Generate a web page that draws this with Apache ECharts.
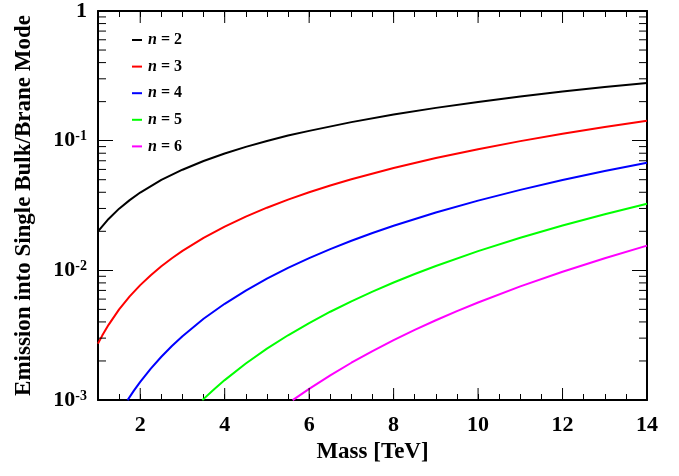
<!DOCTYPE html>
<html>
<head>
<meta charset="utf-8">
<script src="https://cdn.jsdelivr.net/npm/echarts@6/dist/echarts.min.js"></script>
<style>
html,body{margin:0;padding:0;background:#fff;}
#chart{width:679px;height:476px;}
</style>
</head>
<body>
<div id="chart"></div>
<script>
// ---- data ----
const seriesNames = ['n = 2', 'n = 3', 'n = 4', 'n = 5', 'n = 6'];
const seriesColors = ['#000000', '#ff0000', '#0000ff', '#00ff00', '#ff00ff'];

const massN2 = [1, 1.25, 1.5, 1.75, 2, 2.5, 3, 3.5, 4, 4.5, 5, 5.5, 6, 7, 8, 9, 10, 11, 12, 13, 14];
const emitN2 = [0.0200, 0.0249, 0.0299, 0.0348, 0.0398, 0.0498, 0.0597, 0.0697, 0.0796, 0.0896, 0.0995, 0.1095, 0.119, 0.139, 0.159, 0.179, 0.199, 0.219, 0.239, 0.259, 0.279];

const massN3 = [1, 1.1, 1.25, 1.5, 1.75, 2, 2.25, 2.5, 2.75, 3, 3.5, 4, 4.5, 5, 5.5, 6, 6.5, 7, 8, 9, 10, 11, 12, 13, 14];
const emitN3 = [0.00272, 0.003138, 0.00380, 0.00500, 0.0063, 0.00769, 0.00918, 0.01075, 0.0124, 0.01413, 0.01781, 0.02176, 0.02597, 0.03041, 0.03509, 0.03998, 0.04508, 0.05037, 0.06155, 0.07344, 0.0860, 0.0992, 0.1131, 0.1275, 0.1425];

const massN4 = [1.7, 1.85, 2, 2.25, 2.5, 2.75, 3, 3.5, 4, 4.5, 5, 5.5, 6, 6.5, 7, 7.5, 8, 9, 10, 11, 12, 13, 14];
const emitN4 = [0.000997, 0.00118, 0.00138, 0.001747, 0.002156, 0.002609, 0.003105, 0.00423, 0.00552, 0.006986, 0.008625, 0.01044, 0.01242, 0.01458, 0.0169, 0.01941, 0.02208, 0.02795, 0.0345, 0.04175, 0.04968, 0.0583, 0.0676];

const massN5 = [3.47, 3.75, 4, 4.5, 5, 5.5, 6, 6.5, 7, 7.5, 8, 8.5, 9, 10, 11, 12, 13, 14];
const emitN5 = [0.000998, 0.001212, 0.001424, 0.001912, 0.002488, 0.003157, 0.003924, 0.004794, 0.005768, 0.006855, 0.008055, 0.00937, 0.01081, 0.01407, 0.01786, 0.0222, 0.02711, 0.03264];

const massN6 = [5.61, 6, 6.5, 7, 7.5, 8, 8.5, 9, 9.5, 10, 11, 12, 13, 14];
const emitN6 = [0.000998, 0.00122, 0.00155, 0.001938, 0.002384, 0.002893, 0.00347, 0.004119, 0.004844, 0.00565, 0.00752, 0.00976, 0.01241, 0.0155];

// axis ranges and tick values
const xMin = 1, xMax = 14;
const yMin = 0.001, yMax = 1;
const xLabelValues = [2, 4, 6, 8, 10, 12, 14];
const yLabelMap = { '1': '1', '0.1': '-1', '0.01': '-2', '0.001': '-3' };
const yMinorTicks = [0.002,0.003,0.004,0.005,0.006,0.007,0.008,0.009,
                     0.02,0.03,0.04,0.05,0.06,0.07,0.08,0.09,
                     0.2,0.3,0.4,0.5,0.6,0.7,0.8,0.9];

const masses = [massN2, massN3, massN4, massN5, massN6];
const emits = [emitN2, emitN3, emitN4, emitN5, emitN6];

const FONT = 'Liberation Serif';

function zip(a, b) { return a.map((v, i) => [v, b[i]]); }

const lineSeries = seriesNames.map((name, i) => ({
  name: name,
  type: 'line',
  data: zip(masses[i], emits[i]),
  showSymbol: false,
  smooth: false,
  clip: true,
  color: seriesColors[i],
  lineStyle: { color: seriesColors[i], width: 2, join: 'round' },
  z: 3
}));

const yTickSeries = {
  type: 'custom',
  coordinateSystem: 'cartesian2d',
  silent: true,
  data: yMinorTicks.map(v => [xMin, v]),
  renderItem: function (params, api) {
    const v = api.value(1);
    const l = api.coord([xMin, v]);
    const r = api.coord([xMax, v]);
    const style = { stroke: '#000', lineWidth: 1 };
    return { type: 'group', children: [
      { type: 'line', shape: { x1: l[0], y1: l[1], x2: l[0] + 8, y2: l[1] }, style: style },
      { type: 'line', shape: { x1: r[0], y1: r[1], x2: r[0] - 8, y2: r[1] }, style: style }
    ]};
  },
  z: 4
};

const xTickSeries = {
  type: 'custom',
  coordinateSystem: 'cartesian2d',
  silent: true,
  data: xLabelValues.map(v => [v, yMin]),
  renderItem: function (params, api) {
    const v = api.value(0);
    const b = api.coord([v, yMin]);
    const t = api.coord([v, yMax]);
    const style = { stroke: '#000', lineWidth: 1 };
    return { type: 'group', children: [
      { type: 'line', shape: { x1: b[0], y1: b[1], x2: b[0], y2: b[1] - 12 }, style: style },
      { type: 'line', shape: { x1: t[0], y1: t[1], x2: t[0], y2: t[1] + 12 }, style: style }
    ]};
  },
  z: 4
};

const chart = echarts.init(document.getElementById('chart'), null, { renderer: 'canvas' });

const axisLineStyle = { show: true, lineStyle: { color: '#000', width: 2 } };

chart.setOption({
  animation: false,
  backgroundColor: '#fff',
  grid: { left: 98, right: 32, top: 11, bottom: 76, containLabel: false },
  legend: {
    data: seriesNames,
    orient: 'vertical',
    left: 127,
    top: 27,
    icon: 'rect',
    itemWidth: 10,
    itemHeight: 2,
    itemGap: 10.6,
    selectedMode: false,
    formatter: function (name) { return '{i|n}{r|' + name.slice(1) + '}'; },
    textStyle: {
      padding: [0, 0, 0, 1],
      rich: {
        i: { fontFamily: FONT, fontWeight: 'bold', fontStyle: 'italic', fontSize: 16, lineHeight: 16, color: '#000' },
        r: { fontFamily: FONT, fontWeight: 'bold', fontSize: 16, lineHeight: 16, color: '#000' }
      }
    }
  },
  xAxis: [{
    type: 'value',
    min: xMin, max: xMax, interval: 0.5,
    name: 'Mass [TeV]',
    nameLocation: 'middle',
    nameGap: 40,
    nameTextStyle: { fontFamily: FONT, fontWeight: 'bold', fontSize: 23, color: '#000' },
    axisLine: axisLineStyle,
    axisTick: { show: true, inside: true, length: 6, lineStyle: { color: '#000', width: 1 } },
    splitLine: { show: false },
    axisLabel: {
      margin: 14,
      fontFamily: FONT, fontWeight: 'bold', fontSize: 22, color: '#000',
      formatter: function (v) { return xLabelValues.indexOf(v) >= 0 ? String(v) : ''; }
    }
  }, {
    type: 'value',
    position: 'top',
    min: xMin, max: xMax, interval: 0.5,
    axisLine: axisLineStyle,
    axisTick: { show: true, inside: true, length: 6, lineStyle: { color: '#000', width: 1 } },
    splitLine: { show: false },
    axisLabel: { show: false }
  }],
  yAxis: [{
    type: 'log',
    logBase: 10,
    min: yMin, max: yMax,
    name: 'Emission into Single Bulk/Brane Mode',
    nameLocation: 'middle',
    nameGap: 62,
    nameTextStyle: { fontFamily: FONT, fontWeight: 'bold', fontSize: 23, color: '#000' },
    axisLine: axisLineStyle,
    axisTick: { show: true, inside: true, length: 15, lineStyle: { color: '#000', width: 1 } },
    splitLine: { show: false },
    axisLabel: {
      margin: 11,
      formatter: function (v) {
        const key = String(+v.toPrecision(3));
        const e = yLabelMap[key];
        if (e === undefined) return '';
        if (e === '1') return '{b|1}';
        return '{b|10}{s|' + e + '}';
      },
      rich: {
        b: { fontFamily: FONT, fontWeight: 'bold', fontSize: 22, lineHeight: 22, color: '#000' },
        s: { fontFamily: FONT, fontWeight: 'bold', fontSize: 14, lineHeight: 22, verticalAlign: 'top', color: '#000', padding: [0, 0, 8, 0] }
      }
    }
  }, {
    type: 'log',
    logBase: 10,
    position: 'right',
    min: yMin, max: yMax,
    axisLine: axisLineStyle,
    axisTick: { show: true, inside: true, length: 15, lineStyle: { color: '#000', width: 1 } },
    splitLine: { show: false },
    axisLabel: { show: false }
  }],
  series: lineSeries.concat([yTickSeries, xTickSeries])
});
</script>
</body>
</html>
